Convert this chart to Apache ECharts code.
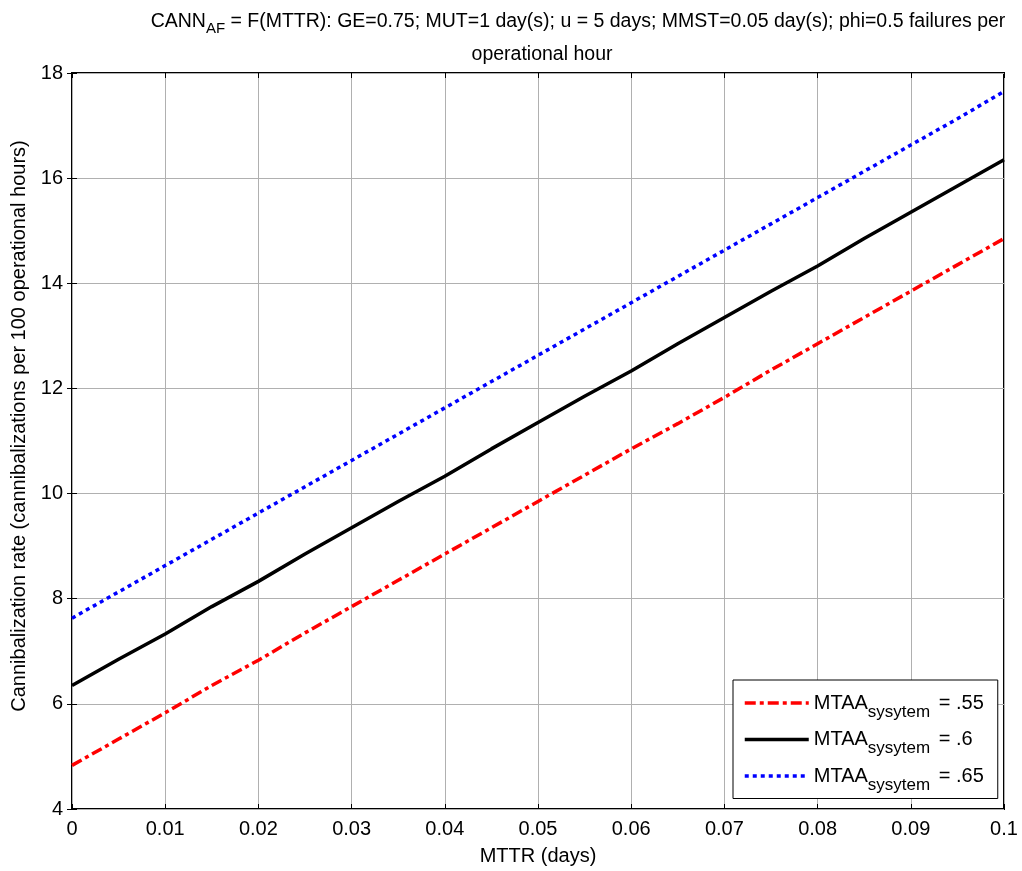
<!DOCTYPE html>
<html style="height: 100%">
<head>
    <meta charset="utf-8">
</head>
<body style="height: 100%; margin: 0; background: #fff">
    <div id="container" style="width: 1022px; height: 871px"></div>
    <script src="https://cdn.jsdelivr.net/npm/echarts@6/dist/echarts.min.js"></script>
    <script type="text/javascript">
        // MTTR values (days)
        var mttr = [0, 0.005, 0.01, 0.015, 0.02, 0.025, 0.03, 0.035, 0.04, 0.045, 0.05,
                    0.055, 0.06, 0.065, 0.07, 0.075, 0.08, 0.085, 0.09, 0.095, 0.1];
        // cannibalization rate
        var cann55 = [4.83, 5.33, 5.83, 6.35, 6.83, 7.35, 7.85, 8.35, 8.85, 9.35, 9.85,
                      10.35, 10.85, 11.33, 11.83, 12.35, 12.85, 13.35, 13.85, 14.35, 14.85];
        var cann60 = [6.35, 6.85, 7.33, 7.85, 8.33, 8.85, 9.35, 9.85, 10.33, 10.85, 11.35,
                      11.85, 12.33, 12.85, 13.35, 13.85, 14.33, 14.85, 15.35, 15.85, 16.35];
        var cann65 = [7.63, 8.13, 8.63, 9.13, 9.63, 10.13, 10.63, 11.13, 11.63, 12.13, 12.63,
                      13.13, 13.63, 14.13, 14.63, 15.13, 15.63, 16.13, 16.63, 17.13, 17.65];
        var names = ['.55', '.6', '.65'];

        function pairs(ys) {
            return mttr.map(function (x, i) { return [x, ys[i]]; });
        }

        var font = 'Liberation Sans, Arial, sans-serif';
        var myChart = echarts.init(document.getElementById('container'));

        var frameAxis = {
            axisLine: { show: false },
            axisTick: { show: true, inside: true, length: 5, lineStyle: { color: '#000' } },
            axisLabel: { show: false },
            splitLine: { show: false }
        };

        option = {
            animation: false,
            textStyle: { fontFamily: font },
            title: [{
                text: '{t|CANN}{s|AF}{t| = F(MTTR): GE=0.75; MUT=1 day(s); u = 5 days; MMST=0.05 day(s); phi=0.5 failures per}',
                left: 573,
                top: 2,
                textAlign: 'center',
                textStyle: {
                    fontFamily: font,
                    fontWeight: 'normal',
                    rich: {
                        t: { fontSize: 19.5, color: '#000', fontFamily: font, lineHeight: 26 },
                        s: { fontSize: 15, color: '#000', fontFamily: font, padding: [14, 0, 0, 0] }
                    }
                }
            }, {
                text: 'operational hour',
                left: 537,
                top: 40,
                textAlign: 'center',
                textStyle: { fontFamily: font, fontWeight: 'normal', fontSize: 19.5, color: '#000' }
            }],
            grid: {
                left: 72, right: 18, top: 73, bottom: 62,
                outerBoundsMode: 'none',
                containLabel: false,
                show: true, borderColor: '#000', borderWidth: 2
            },
            legend: {
                orient: 'vertical',
                left: 733, top: 680,
                backgroundColor: '#fff',
                borderColor: '#000',
                borderWidth: 1,
                borderRadius: 0,
                padding: [13, 14, 5, 10],
                itemGap: 9,
                itemWidth: 64,
                itemHeight: 14,
                itemStyle: { opacity: 0 },
                lineStyle: { width: 3.5 },
                formatter: function (name) {
                    return '{m|MTAA}{s|sysytem}{m| = ' + name + '}';
                },
                textStyle: {
                    rich: {
                        m: { fontSize: 20, color: '#000', fontFamily: font },
                        s: { fontSize: 17, color: '#000', fontFamily: font, padding: [18, 3, 0, 0] }
                    }
                },
                data: names
            },
            xAxis: [{
                type: 'value', min: 0, max: 0.1, interval: 0.01,
                name: 'MTTR (days)', nameLocation: 'middle', nameGap: 37,
                nameTextStyle: { fontSize: 20, color: '#000', fontFamily: font },
                axisLine: { show: false },
                axisTick: { show: true, inside: true, length: 5, lineStyle: { color: '#000' } },
                axisLabel: {
                    color: '#000', fontSize: 20, fontFamily: font, margin: 10,
                    formatter: function (v) { return v === 0 ? '0' : String(+v.toFixed(2)); }
                },
                splitLine: { show: true, lineStyle: { color: '#b0b0b0', width: 1 } }
            }, Object.assign({ type: 'value', position: 'top', min: 0, max: 0.1, interval: 0.01 }, frameAxis)],
            yAxis: [{
                type: 'value', min: 4, max: 18, interval: 2,
                name: 'Cannibalization rate (cannibalizations per 100 operational hours)',
                nameLocation: 'middle', nameGap: 41,
                nameTextStyle: { fontSize: 20, color: '#000', fontFamily: font, padding: [0, 0, 0, 30] },
                axisLine: { show: false },
                axisTick: { show: true, inside: true, length: 5, lineStyle: { color: '#000' } },
                axisLabel: { color: '#000', fontSize: 20, fontFamily: font, margin: 9 },
                splitLine: { show: true, lineStyle: { color: '#b0b0b0', width: 1 } }
            }, Object.assign({ type: 'value', position: 'right', min: 4, max: 18, interval: 2 }, frameAxis)],
            series: [{
                name: '.55', type: 'line', showSymbol: false, symbol: 'none',
                data: pairs(cann55),
                itemStyle: { color: '#ff0000' },
                lineStyle: { color: '#ff0000', width: 3.5, type: [11, 4, 4, 4] }
            }, {
                name: '.6', type: 'line', showSymbol: false, symbol: 'none',
                data: pairs(cann60),
                itemStyle: { color: '#000' },
                lineStyle: { color: '#000', width: 3.5 }
            }, {
                name: '.65', type: 'line', showSymbol: false, symbol: 'none',
                data: pairs(cann65),
                itemStyle: { color: '#0000ff' },
                lineStyle: { color: '#0000ff', width: 3.5, type: [4, 4] }
            }]
        };

        myChart.setOption(option);
    </script>
</body>
</html>
